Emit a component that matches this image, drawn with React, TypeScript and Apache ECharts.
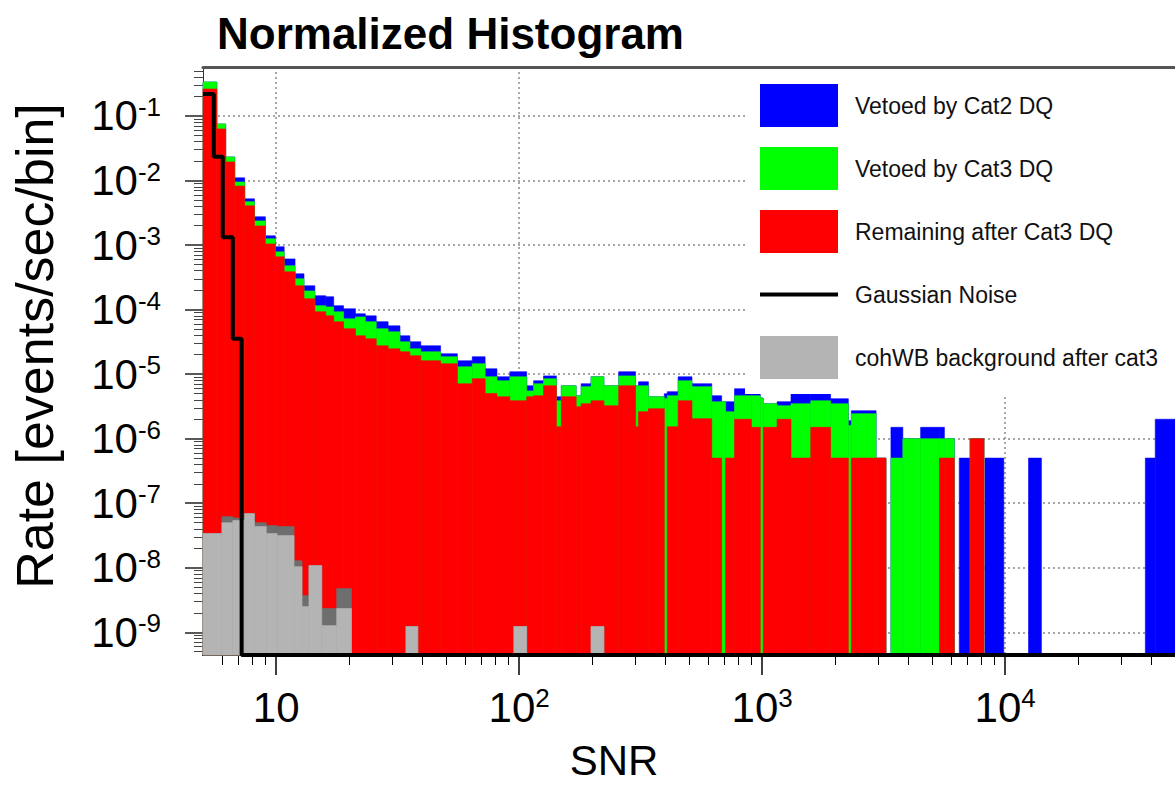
import React, { useEffect, useRef } from 'react';
import * as echarts from 'echarts';

const FONT = "'Liberation Sans', Arial, Helvetica, sans-serif";

// Axis ranges
const SNR_MIN = 5;
const SNR_MAX = 50000;
const RATE_MIN = 4.45e-10;
const RATE_MAX = 0.574;

// Trigger histogram bins (SNR lower / upper edges)
const binLow = [
  5.0, 5.7, 6.2, 6.75, 7.42, 8.14, 9.03, 9.92, 10.79, 11.96,
  13.02, 14.43, 16.0, 17.25, 18.94, 21.2, 23.28, 25.81, 28.89, 32.32,
  35.51, 39.37, 47.5, 55.69, 64.12, 72.43, 81.05, 91.55, 107.4, 114.7,
  126.0, 142.3, 149.1, 171.6, 179.9, 197.6, 223.3, 256.9, 301.3, 309.9,
  340.4, 395.6, 406.9, 451.1, 514.3, 620.2, 681.4, 707.5, 769.7, 902.8,
  982.4, 1010.4, 1152, 1314, 1585, 1912, 2263, 2328, 2944, 3388,
  3793, 4489, 5365, 5623, 6474, 7177, 8260, 12480, 37750, 41460,
];
const binHigh = [
  5.7, 6.2, 6.75, 7.42, 8.14, 9.03, 9.92, 10.79, 11.96, 13.02,
  14.43, 16.0, 17.25, 18.94, 21.2, 23.28, 25.81, 28.89, 32.32, 35.51,
  39.37, 47.5, 55.69, 64.12, 72.43, 81.05, 91.55, 107.4, 114.7, 126.0,
  142.3, 149.1, 171.6, 179.9, 197.6, 223.3, 256.9, 301.3, 309.9, 340.4,
  395.6, 406.9, 451.1, 514.3, 620.2, 681.4, 707.5, 769.7, 902.8, 982.4,
  1010.4, 1152, 1314, 1585, 1912, 2263, 2328, 2944, 3233, 3793,
  4489, 5365, 5623, 6176, 7177, 8183, 9872, 14100, 41460, 50000,
];
// All triggers (shown where vetoed by Cat2 DQ)
const cat2Rate = [
  0.336, 0.0752, 0.0232, 0.011, 5.2e-3, 2.74e-3, 1.39e-3, 9.4e-4, 6.1e-4, 3.58e-4,
  2.34e-4, 1.64e-4, 1.58e-4, 1.15e-4, 1.03e-4, 8.6e-5, 8.0e-5, 6.5e-5, 5.6e-5, 3.93e-5,
  3.17e-5, 2.75e-5, 2.07e-5, 1.61e-5, 1.86e-5, 1.21e-5, 9.1e-6, 1.09e-5, 6.6e-6, 7.9e-6,
  9.4e-6, 4.47e-6, 6.6e-6, 4.63e-6, 7.1e-6, 9.1e-6, 6.6e-6, 1.09e-5, 6.6e-6, 7.6e-6,
  4.47e-6, 4.98e-6, 5.35e-6, 9.1e-6, 7.1e-6, 4.63e-6, 3.74e-6, 3.74e-6, 5.94e-6, 5.5e-6,
  4.2e-6, 3.48e-6, 3.74e-6, 5.35e-6, 5.35e-6, 4.16e-6, 1.9e-6, 2.71e-6, 5e-7, 1.5e-6,
  1e-6, 1.5e-6, 1.5e-6, 1e-6, 5e-7, 1e-6, 5e-7, 5e-7, 5e-7, 2e-6,
];
// Triggers surviving Cat2 (shown where vetoed by Cat3 DQ)
const cat3Rate = [
  0.336, 0.0752, 0.0232, 9.5e-3, 4.7e-3, 2.37e-3, 1.25e-3, 7.85e-4, 4.77e-4, 3.0e-4,
  1.95e-4, 1.15e-4, 1.1e-4, 9.25e-5, 7.2e-5, 7.7e-5, 6.5e-5, 5.05e-5, 4.53e-5, 3.17e-5,
  2.47e-5, 2.22e-5, 1.86e-5, 1.3e-5, 1.45e-5, 9.1e-6, 7.9e-6, 9.1e-6, 5.5e-6, 7.1e-6,
  8.5e-6, 3.87e-6, 6.6e-6, 4.63e-6, 6.4e-6, 9.1e-6, 6.6e-6, 9.4e-6, 6.6e-6, 6.6e-6,
  4.47e-6, 4.2e-6, 4.63e-6, 7.9e-6, 6.4e-6, 3.74e-6, 3.74e-6, 2.62e-6, 4.63e-6, 4.63e-6,
  4.2e-6, 3.48e-6, 3.24e-6, 3.48e-6, 3.87e-6, 3.48e-6, 1.6e-6, 2.44e-6, 5e-7, 5e-7,
  1e-6, 1e-6, 1e-6, 1e-6, 0, 1e-6, 0, 0, 0, 0,
];
// Remaining after Cat3 DQ
const remainingRate = [
  0.262, 0.063, 0.0194, 8.2e-3, 4.05e-3, 1.98e-3, 1.04e-3, 6.57e-4, 3.85e-4, 2.34e-4,
  1.47e-4, 9.25e-5, 8.0e-5, 6.5e-5, 5.05e-5, 3.93e-5, 3.53e-5, 2.75e-5, 2.47e-5, 2.22e-5,
  1.93e-5, 1.61e-5, 1.45e-5, 7.1e-6, 8.5e-6, 5.0e-6, 4.47e-6, 3.87e-6, 4.47e-6, 4.63e-6,
  6.6e-6, 1.53e-6, 4.47e-6, 3.13e-6, 3.48e-6, 3.87e-6, 3.24e-6, 6.6e-6, 1.53e-6, 2.62e-6,
  2.91e-6, 0, 1.53e-6, 3.87e-6, 2.04e-6, 5e-7, 0, 5e-7, 2e-6, 1.5e-6,
  0, 1.5e-6, 2e-6, 5e-7, 1.5e-6, 5e-7, 0, 5e-7, 5e-7, 0,
  0, 0, 5e-7, 5e-7, 0, 1e-6, 0, 0, 0, 0,
];

// Coherent WaveBurst background bins
const cohLow = [5.0, 5.98, 6.63, 7.42, 8.14, 9.11, 10.1, 11.85, 12.78, 13.64, 15.41, 17.74, 34.2, 95.1, 197.6];
const cohHigh = [5.98, 6.63, 7.42, 8.14, 9.11, 10.1, 11.85, 12.78, 13.64, 15.41, 17.74, 20.42, 38.3, 107.4, 223.3];
const cohBeforeRate = [3.4e-8, 6.2e-8, 5.9e-8, 6.9e-8, 5.0e-8, 4.5e-8, 4.35e-8, 1.29e-8, 3.7e-9, 1.08e-8, 2.34e-9, 4.76e-9, 1.23e-9, 1.23e-9, 1.23e-9];
const cohAfterRate = [3.4e-8, 5.0e-8, 5.4e-8, 6.9e-8, 4.35e-8, 3.4e-8, 3.15e-8, 1.04e-8, 2.5e-9, 1.08e-8, 1.27e-9, 2.34e-9, 1.23e-9, 1.23e-9, 1.23e-9];

// Gaussian noise expectation (step edges and rates; 0 = below the axis floor)
const gaussEdges = [5.0, 5.54, 6.03, 6.63, 7.21, 50000];
const gaussRate = [0.219, 0.0234, 1.32e-3, 3.53e-5, 0];

// Tick positions
const xMajor = [10, 100, 1000, 10000];
const yMajor = [1e-9, 1e-8, 1e-7, 1e-6, 1e-5, 1e-4, 1e-3, 1e-2, 1e-1];

function logMinorTicks(lo: number, hi: number): number[] {
  const out: number[] = [];
  for (let e = Math.floor(Math.log10(lo)); e <= Math.ceil(Math.log10(hi)); e++) {
    for (let m = 2; m <= 9; m++) {
      const v = parseFloat((m * Math.pow(10, e)).toPrecision(3));
      if (v > lo * 1.0001 && v < hi * 0.9999) out.push(v);
    }
  }
  return out;
}
const xMinor = logMinorTicks(SNR_MIN, SNR_MAX);
const yMinor = logMinorTicks(RATE_MIN, RATE_MAX);

const COLORS = {
  cat2: '#0000ff',
  cat3: '#00ff00',
  remaining: '#ff0000',
  cohBefore: '#6e6e6e',
  cohAfter: '#b4b4b4',
};

function histSeries(name: string, low: number[], high: number[], vals: number[], color: string) {
  const data: number[][] = [];
  low.forEach((lo, i) => {
    if (vals[i] > 0) data.push([lo, high[i], vals[i]]);
  });
  return {
    type: 'custom',
    name,
    data,
    encode: { x: [0, 1], y: 2 },
    itemStyle: { color },
    renderItem: (_params: any, api: any) => {
      const a = api.coord([api.value(0), api.value(2)]);
      const b = api.coord([api.value(1), RATE_MIN]);
      return {
        type: 'rect',
        shape: { x: a[0], y: a[1], width: b[0] - a[0], height: b[1] - a[1] },
        style: { fill: color, stroke: color, lineWidth: 0.6 },
      };
    },
  };
}

const gaussPoints: number[][] = [];
gaussRate.forEach((r, i) => {
  const v = r > 0 ? r : RATE_MIN;
  gaussPoints.push([gaussEdges[i], v], [gaussEdges[i + 1], v]);
});

const powLabel = (v: number, plainTen: boolean) => {
  const e = Math.round(Math.log10(v));
  if (plainTen && e === 1) return '{b|10}';
  return `{b|10}{s|${e}}`;
};

const labelRich = {
  b: { fontSize: 42, fontFamily: FONT, color: '#000', lineHeight: 44 },
  s: { fontSize: 26, fontFamily: FONT, color: '#000', verticalAlign: 'top', lineHeight: 24 },
};

const gridLine = { show: true, lineStyle: { color: '#8a8a8a', type: [2, 3], width: 1.5 } };

export default function App() {
  const ref = useRef<HTMLDivElement>(null);

  useEffect(() => {
    if (!ref.current) return;
    const chart = echarts.init(ref.current, undefined, { renderer: 'svg' });
    chart.setOption({
      animation: false,
      backgroundColor: '#fff',
      title: {
        text: 'Normalized Histogram',
        left: 212,
        top: 6,
        textStyle: { fontSize: 44, fontWeight: 'bold', color: '#000', fontFamily: FONT },
      },
      legend: {
        orient: 'vertical',
        left: 745,
        top: 70,
        padding: [14, 20, 15, 15],
        backgroundColor: '#fff',
        itemWidth: 78,
        itemHeight: 43,
        itemGap: 20,
        selectedMode: false,
        textStyle: { fontSize: 23, lineHeight: 43, fontFamily: FONT, color: '#111', padding: [0, 0, 0, 12] },
        data: [
          { name: 'Vetoed by Cat2 DQ', icon: 'rect' },
          { name: 'Vetoed by Cat3 DQ', icon: 'rect' },
          { name: 'Remaining after Cat3 DQ', icon: 'rect' },
          { name: 'Gaussian Noise', icon: 'path://M0,0H78V4H0Z' },
          { name: 'cohWB background after cat3', icon: 'rect' },
        ],
      },
      grid: { left: 203, top: 67, right: -10, bottom: 129, containLabel: false },
      xAxis: [
        {
          type: 'log',
          min: SNR_MIN,
          max: SNR_MAX,
          position: 'bottom',
          axisLine: { show: true, lineStyle: { color: '#000', width: 2 } },
          axisTick: { show: true, customValues: xMajor, length: 20, lineStyle: { color: '#000', width: 1.5 } },
          axisLabel: {
            customValues: xMajor,
            margin: 30,
            formatter: (v: number) => powLabel(v, true),
            rich: labelRich,
          },
          splitLine: gridLine,
          name: 'SNR',
          nameLocation: 'middle',
          nameGap: 84,
          nameTextStyle: { fontSize: 42, fontFamily: FONT, color: '#000', padding: [0, 150, 0, 0] },
        },
        {
          type: 'log',
          min: SNR_MIN,
          max: SNR_MAX,
          position: 'bottom',
          axisLine: { show: false },
          axisTick: { show: true, customValues: xMinor, length: 10, lineStyle: { color: '#000', width: 1 } },
          axisLabel: { show: false },
          splitLine: { show: false },
        },
        {
          type: 'log',
          min: SNR_MIN,
          max: SNR_MAX,
          position: 'top',
          axisLine: { show: true, lineStyle: { color: '#555', width: 3 } },
          axisTick: { show: false },
          axisLabel: { show: false },
          splitLine: { show: false },
        },
      ],
      yAxis: [
        {
          type: 'log',
          min: RATE_MIN,
          max: RATE_MAX,
          position: 'left',
          axisLine: { show: true, lineStyle: { color: '#333', width: 1 } },
          axisTick: { show: true, customValues: yMajor, length: 18, lineStyle: { color: '#222', width: 1.5 } },
          axisLabel: {
            customValues: yMajor,
            margin: 42,
            formatter: (v: number) => powLabel(v, false),
            rich: labelRich,
          },
          splitLine: gridLine,
          name: 'Rate [events/sec/bin]',
          nameLocation: 'middle',
          nameGap: 142,
          nameTextStyle: { fontSize: 52, fontFamily: FONT, color: '#000', padding: [0, 0, 0, 30] },
        },
        {
          type: 'log',
          min: RATE_MIN,
          max: RATE_MAX,
          position: 'left',
          axisLine: { show: false },
          axisTick: { show: true, customValues: yMinor, length: 9, lineStyle: { color: '#444', width: 1 } },
          axisLabel: { show: false },
          splitLine: { show: false },
        },
      ],
      series: [
        histSeries('Vetoed by Cat2 DQ', binLow, binHigh, cat2Rate, COLORS.cat2),
        histSeries('Vetoed by Cat3 DQ', binLow, binHigh, cat3Rate, COLORS.cat3),
        histSeries('Remaining after Cat3 DQ', binLow, binHigh, remainingRate, COLORS.remaining),
        histSeries('cohWB background before cat3', cohLow, cohHigh, cohBeforeRate, COLORS.cohBefore),
        histSeries('cohWB background after cat3', cohLow, cohHigh, cohAfterRate, COLORS.cohAfter),
        {
          type: 'line',
          name: 'Gaussian Noise',
          data: gaussPoints,
          symbol: 'none',
          clip: false,
          z: 5,
          lineStyle: { color: '#000', width: 4 },
          itemStyle: { color: '#000' },
        },
      ],
    });
    return () => chart.dispose();
  }, []);

  return (
    <div
      ref={ref}
      style={{ position: 'fixed', left: 0, top: 0, width: 1175, height: 786, background: '#fff' }}
    />
  );
}
